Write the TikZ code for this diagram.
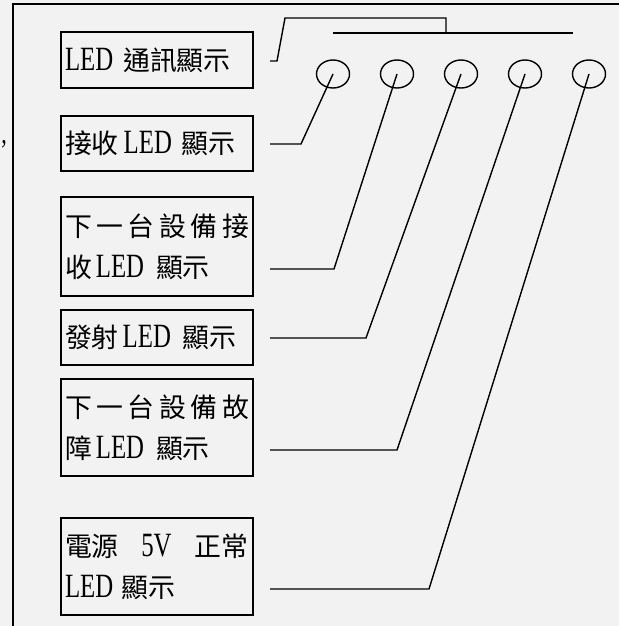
\documentclass[tikz,border=0pt]{standalone}
\usepackage{fontspec}
\setmainfont[FakeStretch=0.73]{Liberation Serif}
\newfontfamily\cjk[Scale=0.79]{Noto Sans CJK TC}
\newcommand\zh[1]{{\cjk #1}}
\usetikzlibrary{shapes.geometric}
\definecolor{bg}{HTML}{F2F2F2}
\begin{document}
\begin{tikzpicture}[x=1pt,y=-1pt,
  ln/.style={line width=1.4pt, line join=miter},
  lbox/.style={draw, line width=1.3pt, minimum width=192pt, text width=184pt, inner xsep=4pt, inner ysep=0pt,
     align=left, font=\fontsize{34}{41}\selectfont},
  led/.style={draw, line width=1.4pt, ellipse, minimum width=33pt, minimum height=28pt, inner sep=0pt}]
\useasboundingbox (0,0) rectangle (619,626);
\fill[bg] (0,0) rectangle (619,626);
% frame
\draw[ln] (619,4) -- (13,4) -- (13,626);
\node[font=\fontsize{30}{34}\selectfont, inner sep=0pt, anchor=south] (comma) at (4,148) {,};
% boxes
\node[lbox, minimum height=56pt] (b1) at (157,60) {LED\hspace{10pt}\zh{通訊顯示}};
\node[lbox, minimum height=55pt] (b2) at (157,143.5) {\zh{接收}\hspace{5pt}LED\hspace{10pt}\zh{顯示}};
\node[lbox, minimum height=99pt] (b3) at (157,246.5) {\makebox[184pt][l]{\cjk 下\hfill 一\hfill 台\hfill 設\hfill 備\hfill 接}\\\zh{收}\hspace{4pt}LED\hspace{12pt}\zh{顯示}};
\node[lbox, minimum height=55pt] (b4) at (157,337.5) {\zh{發射}\hspace{4pt}LED\hspace{12pt}\zh{顯示}};
\node[lbox, minimum height=97pt] (b5) at (157,427.5) {\makebox[184pt][l]{\cjk 下\hfill 一\hfill 台\hfill 設\hfill 備\hfill 故}\\\zh{障}\hspace{4pt}LED\hspace{12pt}\zh{顯示}};
\node[lbox, minimum height=97pt] (b6) at (157,566.5) {\makebox[183pt][l]{\zh{電源}\hfill 5V\hfill\zh{正常}}\\LED\hspace{8pt}\zh{顯示}};
% LEDs
\node[led] (c1) at (333,74) {};
\node[led] (c2) at (397,74) {};
\node[led] (c3) at (461,74) {};
\node[led] (c4) at (525,74) {};
\node[led] (c5) at (589,74) {};
% coordinates
\coordinate (s1) at (270,61);
\coordinate (k1a) at (277,61);
\coordinate (k1b) at (285,18);
\coordinate (k1c) at (446,18);
\coordinate (j1) at (446,33);
\coordinate (barL) at (333,33);
\coordinate (barR) at (573,33);
\coordinate (s2) at (270,144);
\coordinate (k2) at (301,144);
\coordinate (s3) at (270,269);
\coordinate (k3) at (334,269);
\coordinate (s4) at (270,338);
\coordinate (k4) at (366,338);
\coordinate (s5) at (270,450);
\coordinate (k5) at (397,450);
\coordinate (s6) at (270,589);
\coordinate (k6) at (429,589);
% connectors
\draw[ln] (s1) -- (k1a) -- (k1b) -- (k1c) -- (j1);
\draw[ln] (barL) -- (barR);
\draw[ln] (s2) -- (k2) -- (c1.center);
\draw[ln] (s3) -- (k3) -- (c2.center);
\draw[ln] (s4) -- (k4) -- (c3.center);
\draw[ln] (s5) -- (k5) -- (c4.center);
\draw[ln] (s6) -- (k6) -- (c5.center);
\end{tikzpicture}
\end{document}
